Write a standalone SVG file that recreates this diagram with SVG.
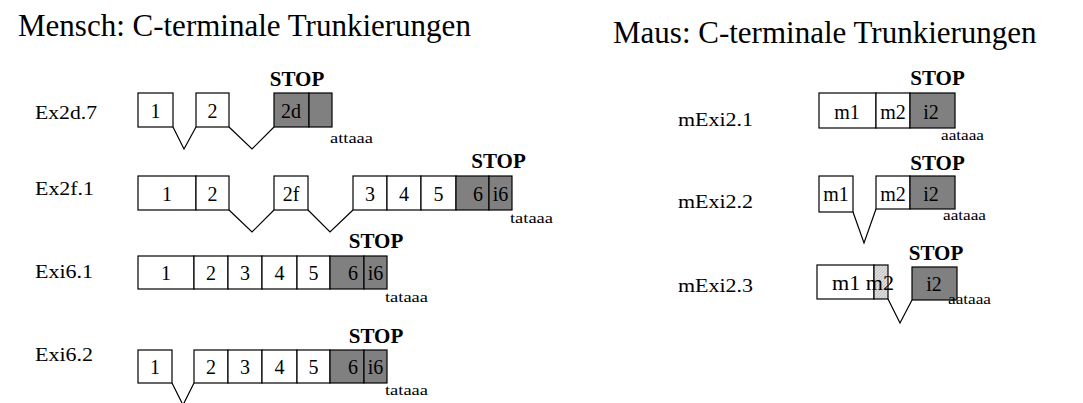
<svg xmlns="http://www.w3.org/2000/svg" width="1083" height="403" viewBox="0 0 1083 403">
  <style>
    text { font-family: "Liberation Serif", "Times New Roman", serif; fill: #000; }
    .title { font-size: 31px; }
    .lbl { font-size: 19px; }
    .ex { font-size: 20px; text-anchor: middle; }
    .exr { font-size: 20px; text-anchor: end; }
    .stop { font-size: 21px; font-weight: bold; text-anchor: middle; }
    .pa { font-size: 15px; }
    .w { fill: #fff; stroke: #000; stroke-width: 1.2; }
    .g { fill: #808080; stroke: #000; stroke-width: 1.2; }
    .h { fill: url(#hatch); stroke: #000; stroke-width: 1.2; }
    .intron { fill: none; stroke: #000; stroke-width: 1.2; }
  </style>
  <defs>
    <pattern id="hatch" width="3" height="3" patternUnits="userSpaceOnUse">
      <rect width="3" height="3" fill="#dcdcdc"/>
      <path d="M0 3 L3 0" stroke="#b8b8b8" stroke-width="0.8"/>
    </pattern>
  </defs>

  <rect width="1083" height="403" fill="#fff"/>

  <text class="title" x="18" y="36">Mensch: C-terminale Trunkierungen</text>
  <text class="title" x="613" y="43">Maus: C-terminale Trunkierungen</text>

  <!-- intron splice lines -->
  <g id="connectors">
    <polyline class="intron" points="173,127 184,149 196,127"/>
    <polyline class="intron" points="229,127 252,149 274,127"/>
    <polyline class="intron" points="229,210 252,232 274,210"/>
    <polyline class="intron" points="308,210 330,232 353,210"/>
    <polyline class="intron" points="172,383 183,405 194,383"/>
    <polyline class="intron" points="853,212 864,243 876,209"/>
    <polyline class="intron" points="888,299 900,323 912,300"/>
  </g>

  <!-- human transcripts -->
  <g id="ex2d7">
    <text class="lbl" x="35" y="119" textLength="62" lengthAdjust="spacingAndGlyphs">Ex2d.7</text>
    <rect class="w" x="138" y="93" width="35" height="34"/>
    <rect class="w" x="196" y="93" width="33" height="34"/>
    <rect class="g" x="274" y="93" width="35" height="34"/>
    <rect class="g" x="309" y="93" width="23" height="34"/>
    <text class="ex" x="155.5" y="118">1</text>
    <text class="ex" x="212.5" y="118">2</text>
    <text class="ex" x="291" y="118">2d</text>
    <text class="stop" x="297" y="86">STOP</text>
    <text class="pa" x="330" y="143" textLength="43" lengthAdjust="spacingAndGlyphs">attaaa</text>
  </g>

  <g id="ex2f1">
    <text class="lbl" x="35" y="195" textLength="59" lengthAdjust="spacingAndGlyphs">Ex2f.1</text>
    <rect class="w" x="138" y="176" width="58" height="34"/>
    <rect class="w" x="196" y="176" width="33" height="34"/>
    <rect class="w" x="274" y="176" width="34" height="34"/>
    <rect class="w" x="353" y="176" width="34" height="34"/>
    <rect class="w" x="387" y="176" width="34" height="34"/>
    <rect class="w" x="421" y="176" width="35" height="34"/>
    <rect class="g" x="456" y="176" width="33" height="34"/>
    <rect class="g" x="489" y="176" width="23" height="34"/>
    <text class="ex" x="167" y="201">1</text>
    <text class="ex" x="212.5" y="201">2</text>
    <text class="ex" x="291" y="201">2f</text>
    <text class="ex" x="370" y="201">3</text>
    <text class="ex" x="404" y="201">4</text>
    <text class="ex" x="438.5" y="201">5</text>
    <text class="exr" x="483" y="201">6</text>
    <text class="ex" x="500.5" y="201">i6</text>
    <text class="stop" x="498.5" y="168">STOP</text>
    <text class="pa" x="510" y="223" textLength="43" lengthAdjust="spacingAndGlyphs">tataaa</text>
  </g>

  <g id="exi61">
    <text class="lbl" x="35" y="278" textLength="58" lengthAdjust="spacingAndGlyphs">Exi6.1</text>
    <rect class="w" x="138" y="256" width="56" height="33"/>
    <rect class="w" x="194" y="256" width="34" height="33"/>
    <rect class="w" x="228" y="256" width="34" height="33"/>
    <rect class="w" x="262" y="256" width="35" height="33"/>
    <rect class="w" x="297" y="256" width="33" height="33"/>
    <rect class="g" x="330" y="256" width="34" height="33"/>
    <rect class="g" x="364" y="256" width="23" height="33"/>
    <text class="ex" x="166" y="280">1</text>
    <text class="ex" x="211" y="280">2</text>
    <text class="ex" x="245" y="280">3</text>
    <text class="ex" x="279.5" y="280">4</text>
    <text class="ex" x="313.5" y="280">5</text>
    <text class="exr" x="358" y="280">6</text>
    <text class="ex" x="375.5" y="280">i6</text>
    <text class="stop" x="376" y="248">STOP</text>
    <text class="pa" x="385" y="302" textLength="43" lengthAdjust="spacingAndGlyphs">tataaa</text>
  </g>

  <g id="exi62">
    <text class="lbl" x="35" y="361" textLength="58" lengthAdjust="spacingAndGlyphs">Exi6.2</text>
    <rect class="w" x="138" y="350" width="34" height="33"/>
    <rect class="w" x="194" y="350" width="34" height="33"/>
    <rect class="w" x="228" y="350" width="34" height="33"/>
    <rect class="w" x="262" y="350" width="35" height="33"/>
    <rect class="w" x="297" y="350" width="33" height="33"/>
    <rect class="g" x="330" y="350" width="34" height="33"/>
    <rect class="g" x="364" y="350" width="23" height="33"/>
    <text class="ex" x="155" y="374">1</text>
    <text class="ex" x="211" y="374">2</text>
    <text class="ex" x="245" y="374">3</text>
    <text class="ex" x="279.5" y="374">4</text>
    <text class="ex" x="313.5" y="374">5</text>
    <text class="exr" x="358" y="374">6</text>
    <text class="ex" x="375.5" y="374">i6</text>
    <text class="stop" x="376" y="343">STOP</text>
    <text class="pa" x="385" y="395" textLength="43" lengthAdjust="spacingAndGlyphs">tataaa</text>
  </g>

  <!-- mouse transcripts -->
  <g id="mexi21">
    <text class="lbl" x="678" y="126" textLength="75" lengthAdjust="spacingAndGlyphs">mExi2.1</text>
    <rect class="w" x="819" y="93" width="57" height="35"/>
    <rect class="w" x="876" y="93" width="34" height="35"/>
    <rect class="g" x="910" y="93" width="45" height="35"/>
    <text class="ex" x="847" y="119">m1</text>
    <text class="ex" x="893" y="119">m2</text>
    <text class="ex" x="931" y="119">i2</text>
    <text class="stop" x="937.5" y="85">STOP</text>
    <text class="pa" x="941" y="140" textLength="43" lengthAdjust="spacingAndGlyphs">aataaa</text>
  </g>

  <g id="mexi22">
    <text class="lbl" x="678" y="208" textLength="75" lengthAdjust="spacingAndGlyphs">mExi2.2</text>
    <rect class="w" x="819" y="176" width="34" height="36"/>
    <rect class="w" x="876" y="176" width="34" height="33"/>
    <rect class="g" x="910" y="176" width="45" height="33"/>
    <text class="ex" x="836" y="201">m1</text>
    <text class="ex" x="893" y="201">m2</text>
    <text class="ex" x="931" y="201">i2</text>
    <text class="stop" x="937.5" y="170">STOP</text>
    <text class="pa" x="943" y="220" textLength="43" lengthAdjust="spacingAndGlyphs">aataaa</text>
  </g>

  <g id="mexi23">
    <text class="lbl" x="678" y="292" textLength="75" lengthAdjust="spacingAndGlyphs">mExi2.3</text>
    <rect class="w" x="817" y="265" width="57" height="34"/>
    <rect class="h" x="874" y="265" width="14" height="34"/>
    <rect class="g" x="912" y="267" width="45" height="33"/>
    <text x="832" y="290" font-size="20" textLength="62" lengthAdjust="spacingAndGlyphs">m1 m2</text>
    <text class="ex" x="934" y="291">i2</text>
    <text class="stop" x="936" y="260">STOP</text>
    <text class="pa" x="948" y="304" textLength="43" lengthAdjust="spacingAndGlyphs">aataaa</text>
  </g>
</svg>
